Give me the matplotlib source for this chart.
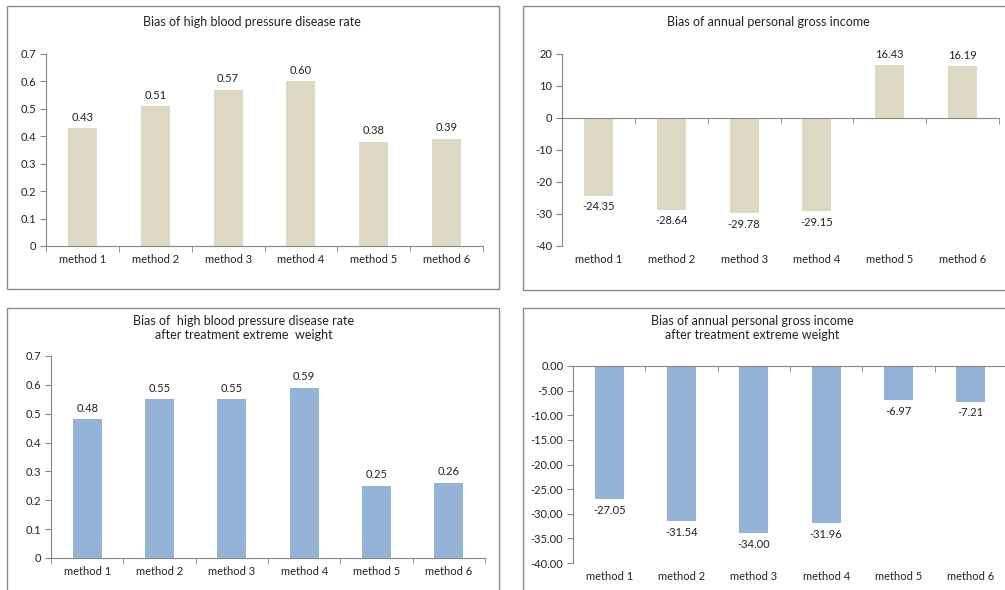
import matplotlib
matplotlib.use("Agg")
import matplotlib.pyplot as plt
from matplotlib.patches import Rectangle

plt.rcParams['font.family'] = ['Lato', 'DejaVu Sans']

categories = ["method 1", "method 2", "method 3", "method 4", "method 5", "method 6"]
bp_rate = [0.43, 0.51, 0.57, 0.60, 0.38, 0.39]
income = [-24.35, -28.64, -29.78, -29.15, 16.43, 16.19]
bp_rate_trim = [0.48, 0.55, 0.55, 0.59, 0.25, 0.26]
income_trim = [-27.05, -31.54, -34.00, -31.96, -6.97, -7.21]

W, H = 1005, 590
fig = plt.figure(figsize=(W / 100, H / 100), dpi=100)
fig.patch.set_facecolor("white")

BEIGE = "#DDD9C4"
BLUE = "#95B3D7"
AXC = "#868686"
TXT = "#222222"
BORDER = "#8C8C8C"


def box(x0, y0, x1, y1):
    r = Rectangle((x0 / W, 1 - y1 / H), (x1 - x0) / W, (y1 - y0) / H,
                  transform=fig.transFigure, fill=False, edgecolor=BORDER,
                  linewidth=1.0, zorder=0)
    fig.patches.append(r)


def axes(x0, y0, x1, y1):
    return fig.add_axes([x0 / W, 1 - y1 / H, (x1 - x0) / W, (y1 - y0) / H])


def style(ax, ylim, yticks, ylabels, zero_top=False):
    ax.set_xlim(-0.5, 5.5)
    ax.set_ylim(*ylim)
    for s in ["top", "right"]:
        ax.spines[s].set_visible(False)
    ax.spines["left"].set_color(AXC)
    ax.spines["bottom"].set_color(AXC)
    ax.spines["bottom"].set_position(("data", 0))
    ax.set_yticks(yticks)
    ax.set_yticklabels(ylabels)
    ax.set_xticks(range(len(categories)))
    ax.set_xticklabels([])
    ax.set_xticks([i - 0.5 for i in range(len(categories) + 1)], minor=True)
    ax.tick_params(axis="x", which="major", length=0)
    ax.tick_params(axis="x", which="minor", length=4, color=AXC, direction="out")
    ax.tick_params(axis="y", length=4, color=AXC, labelsize=8, labelcolor=TXT, pad=3)
    ymin = ylim[0]
    for i, c in enumerate(categories):
        ax.annotate(c, (i, ymin), xytext=(0, -6), textcoords="offset points",
                    ha="center", va="top", fontsize=8, color=TXT,
                    annotation_clip=False)


def bars(ax, vals, color):
    ax.bar(range(len(vals)), vals, width=0.4, color=color, zorder=2)
    for i, v in enumerate(vals):
        if v >= 0:
            ax.annotate(f"{v:.2f}", (i, v), xytext=(0, 4), textcoords="offset points",
                        ha="center", va="bottom", fontsize=8, color=TXT)
        else:
            ax.annotate(f"{v:.2f}", (i, v), xytext=(0, -4), textcoords="offset points",
                        ha="center", va="top", fontsize=8, color=TXT)


# Panel boxes
box(7, 6, 499, 289)
box(523, 6, 1012, 290)
box(7, 308, 499, 600)
box(523, 308, 1012, 600)

# Panel 1
ax1 = axes(46, 54, 483, 246)
bars(ax1, bp_rate, BEIGE)
t1 = [0, 0.1, 0.2, 0.3, 0.4, 0.5, 0.6, 0.7]
style(ax1, (0, 0.7), t1, ["0"] + [f"{v:g}" for v in t1[1:]])
fig.text(252 / W, 1 - 22 / H, "Bias of high blood pressure disease rate",
         ha="center", va="center", fontsize=9, color=TXT)

# Panel 2
ax2 = axes(562, 54, 999, 246)
bars(ax2, income, BEIGE)
t2 = [20, 10, 0, -10, -20, -30, -40]
style(ax2, (-40, 20), t2, [f"{v:d}" for v in t2])
fig.text(768 / W, 1 - 22 / H, "Bias of annual personal gross income",
         ha="center", va="center", fontsize=9, color=TXT)

# Panel 3
ax3 = axes(51, 356, 485, 558)
bars(ax3, bp_rate_trim, BLUE)
style(ax3, (0, 0.7), t1, ["0"] + [f"{v:g}" for v in t1[1:]])
fig.text(244 / W, 1 - 328 / H,
         "Bias of  high blood pressure disease rate\nafter treatment extreme  weight",
         ha="center", va="center", fontsize=9, color=TXT, linespacing=1.15)

# Panel 4
ax4 = axes(573, 366, 1007, 563)
bars(ax4, income_trim, BLUE)
t4 = [0, -5, -10, -15, -20, -25, -30, -35, -40]
style(ax4, (-40, 0), t4, [f"{v:.2f}" for v in t4])
ax4.spines["bottom"].set_position(("data", 0))
fig.text(752 / W, 1 - 328 / H,
         "Bias of annual personal gross income\nafter treatment extreme weight",
         ha="center", va="center", fontsize=9, color=TXT, linespacing=1.15)

fig.savefig("out.png", dpi=100, facecolor="white")
